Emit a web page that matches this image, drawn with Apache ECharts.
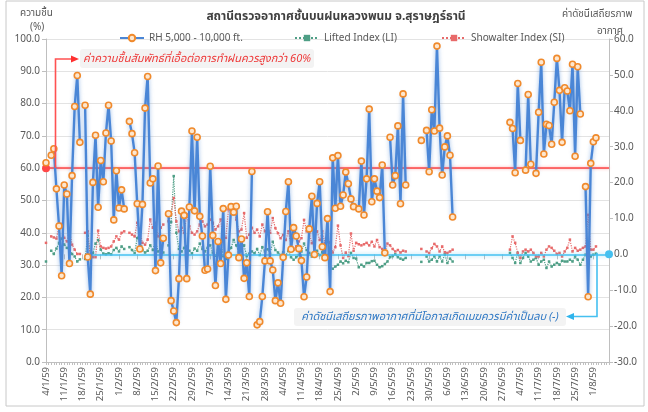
<!DOCTYPE html>
<html><head><meta charset="utf-8">
<script src="https://cdn.jsdelivr.net/npm/echarts@6/dist/echarts.min.js"></script>
<style>html,body{margin:0;padding:0;background:#fff}#c{width:648px;height:412px}</style>
</head><body><div id="c"></div>
<script>
// ---- data ----
const startDate = [2016, 0, 4]; // 4/1/59 (B.E. 2559)
const dayCount = 217;
const leftTicks = {min: 0, max: 100, interval: 10};
const rightTicks = {min: -30, max: 60, interval: 10};

const rh = [
61.7,null,64.0,66.0,53.6,42.1,26.7,54.8,52.0,30.5,57.7,79.1,88.7,68.0,null,79.5,32.5,21.0,55.6,70.2,
47.9,62.4,55.8,70.9,79.5,68.4,44.0,59.2,47.7,53.3,47.4,null,74.5,70.7,64.8,49.0,35.0,48.8,78.6,88.4,
55.4,56.7,28.3,60.7,30.7,38.3,null,45.9,19.0,15.8,12.2,25.8,46.7,45.4,25.8,48.0,71.5,46.8,69.6,45.1,
39.0,28.4,28.8,60.6,39.2,23.7,37.3,30.5,47.5,19.4,33.1,48.1,46.4,48.2,32.3,38.1,25.9,30.7,20.3,59.0,
null,11.5,12.5,20.3,31.3,46.5,31.3,28.5,19.0,24.5,18.2,32.4,46.6,55.8,34.9,41.6,39.0,35.1,31.4,20.2,
26.3,41.2,51.3,33.3,49.1,55.8,35.7,32.3,44.4,21.8,63.2,47.6,63.9,48.2,51.7,58.8,55.2,50.5,48.1,null,
47.4,62.2,45.5,56.7,78.3,49.6,56.7,52.9,50.9,61.0,33.8,null,69.6,54.8,57.7,73.1,49.0,83.0,54.8,null,
null,null,null,null,68.6,null,71.7,58.9,78.1,71.5,97.8,72.4,57.9,66.6,70.0,64.0,44.9,null,null,null,
null,null,null,null,null,null,null,null,null,null,null,null,null,null,null,null,null,null,74.2,72.3,
58.6,86.2,68.6,null,59.4,82.8,61.2,null,58.4,77.3,92.8,64.4,73.6,73.2,67.4,80.4,94.0,84.1,68.0,84.9,
83.9,77.8,92.2,63.7,91.4,76.8,null,54.3,20.2,61.5,68.2,69.4];

const li = [
-2.0,null,1.0,0.1,1.6,3.2,4.4,2.7,1.8,1.3,0.1,-0.6,-2.0,-1.4,null,-1.3,5.2,-0.3,0.4,3.0,
4.0,1.3,0.2,0.0,0.3,0.0,1.2,1.8,0.8,2.2,1.5,null,2.0,1.2,0.4,4.5,6.0,1.2,0.5,1.0,
2.5,1.2,3.8,0.8,1.5,0.5,null,2.5,9.0,21.8,6.0,1.5,0.8,1.8,2.2,1.0,0.2,1.6,1.0,3.0,
1.5,0.8,1.8,2.5,0.5,-0.4,1.2,3.4,-0.5,-1.3,0.6,1.8,4.0,2.5,0.5,0.9,2.5,-0.5,0.2,0.8,
0.3,1.5,-0.2,2.0,0.8,1.4,0.2,3.5,1.2,0.5,-0.2,0.6,-0.3,1.0,-0.8,-1.5,-0.8,-0.2,0.8,3.0,
1.2,0.4,-0.6,0.2,1.0,-0.2,0.6,-1.0,-0.2,-3.5,-4.0,-3.4,-2.9,-2.0,-2.5,-1.8,-2.2,0.4,-1.0,-1.2,
-3.6,-2.9,-3.4,-2.4,-2.4,-1.9,-1.8,-2.9,-3.6,-3.3,-2.7,-2.0,-0.8,-0.5,0.0,-0.8,-1.2,-1.5,-1.0,null,
null,null,null,null,-2.1,null,-0.6,-2.0,-1.5,-0.6,-2.0,-0.6,-2.0,0.0,-2.4,-1.2,-2.0,null,null,null,
null,null,null,null,null,null,null,null,null,null,null,null,null,null,null,null,null,null,0.4,-1.0,
-2.4,0.4,-2.4,-1.0,0.4,-0.6,-2.0,-1.5,-1.0,-2.9,-2.0,-1.5,-3.8,-2.0,-3.4,-2.9,-2.4,-2.9,-1.8,-2.0,
-2.0,-1.5,-2.0,-0.6,-1.5,-2.9,-1.5,-0.1,-1.0,-0.6,-0.1,0.2];

const si = [
3.2,null,5.0,4.7,4.4,7.8,8.5,4.6,3.6,6.6,2.7,1.3,0.1,0.1,null,6.0,6.4,-0.6,-0.8,-0.8,
6.6,2.2,1.8,1.6,1.8,2.2,3.6,5.0,4.1,6.0,6.4,null,6.0,5.5,5.0,8.8,6.4,3.2,2.7,4.1,
9.7,7.4,8.8,5.0,7.4,8.3,null,9.2,11.1,15.7,9.2,6.4,7.4,6.0,11.1,7.8,6.0,5.5,6.4,8.3,
9.2,7.8,8.3,9.7,8.8,6.9,7.8,9.7,3.6,4.6,12.5,12.0,12.9,9.7,6.4,6.9,11.5,4.6,5.5,7.4,
6.0,6.9,5.0,8.3,6.4,7.4,6.0,10.1,7.3,5.9,4.5,5.4,4.0,6.4,2.6,1.3,2.2,3.6,4.5,9.6,
6.4,5.9,3.1,4.5,6.4,4.0,6.4,3.1,4.5,3.2,0.5,2.0,8.0,2.5,-1.0,0.5,-0.5,5.8,1.0,3.2,
2.8,2.5,2.8,3.2,2.5,3.5,2.2,4.0,2.0,1.5,0.5,3.0,2.5,1.5,0.8,1.2,0.5,1.0,0.8,null,
null,null,null,null,1.5,null,0.8,0.4,1.7,2.9,2.2,0.8,2.2,0.6,0.4,0.8,1.3,null,null,null,
null,null,null,null,null,null,null,null,null,null,null,null,null,null,null,null,null,null,1.3,5.0,
3.2,0.4,-1.0,0.8,1.3,0.8,1.3,0.4,-0.6,-0.6,0.4,-0.6,1.3,2.2,1.8,1.0,0.1,0.4,-0.6,0.8,
1.8,4.1,0.8,1.8,1.0,1.3,1.8,2.2,11.0,1.3,1.3,2.2];

const days = [];
for (let i = 0; i < dayCount; i++) {
  const d = new Date(startDate[0], startDate[1], startDate[2] + i);
  days.push(d.getDate() + '/' + (d.getMonth() + 1) + '/59');
}

const FF = "'Noto Sans', 'Noto Sans Thai', Tahoma, 'DejaVu Sans', sans-serif";
const chart = echarts.init(document.getElementById('c'), null, {renderer: 'canvas'});
const gray = '#595959';

chart.setOption({
  animation: false,
  backgroundColor: '#fff',
  textStyle: {fontFamily: FF},
  title: {
    text: 'สถานีตรวจอากาศชั้นบนฝนหลวงพนม จ.สุราษฎร์ธานี',
    left: 331, top: 6, textAlign: 'center',
    textStyle: {fontSize: 12, fontWeight: 'bold', color: '#404040', fontFamily: FF}
  },
  legend: [
    {data: ['RH 5,000 - 10,000 ft.'], left: 114, top: 28, itemWidth: 24, itemHeight: 8, itemGap: 4,
     textStyle: {fontSize: 10, color: gray, fontFamily: FF}},
    {data: ['Lifted Index (LI)'], left: 289, top: 28, itemWidth: 24, itemHeight: 8,
     textStyle: {fontSize: 10, color: gray, fontFamily: FF}},
    {data: ['Showalter Index (SI)'], left: 436, top: 28, itemWidth: 24, itemHeight: 8,
     textStyle: {fontSize: 10, color: gray, fontFamily: FF}}
  ],
  grid: {left: 46, right: 39, top: 39, bottom: 50, containLabel: false},
  xAxis: [{
    type: 'category', data: days, boundaryGap: false,
    axisLine: {lineStyle: {color: '#bfbfbf'}},
    axisTick: {interval: 0, length: 3, lineStyle: {color: '#bfbfbf'}},
    axisLabel: {interval: 6, rotate: 90, fontSize: 9.5, color: gray, margin: 5, fontFamily: FF},
    splitLine: {show: false}
  }, {
    type: 'category', data: days, boundaryGap: false, position: 'bottom',
    axisLine: {show: false},
    axisTick: {interval: 6, length: 5, lineStyle: {color: '#bfbfbf'}},
    axisLabel: {show: false}, splitLine: {show: false}
  }],
  yAxis: [{
    type: 'value', min: leftTicks.min, max: leftTicks.max, interval: leftTicks.interval,
    axisLine: {show: true, lineStyle: {color: '#bfbfbf'}},
    axisTick: {show: true, length: 4, lineStyle: {color: '#bfbfbf'}},
    axisLabel: {formatter: v => v.toFixed(1), fontSize: 10, color: gray, margin: 6, fontFamily: FF},
    splitLine: {lineStyle: {color: '#e3e3e3'}}
  }, {
    type: 'value', min: rightTicks.min, max: rightTicks.max, interval: rightTicks.interval, position: 'right',
    axisLine: {show: true, lineStyle: {color: '#bfbfbf'}},
    axisTick: {show: true, length: 4, lineStyle: {color: '#bfbfbf'}},
    axisLabel: {formatter: v => v.toFixed(1), fontSize: 10, color: gray, margin: 5, fontFamily: FF},
    splitLine: {show: false}
  }],
  series: [{
    name: 'Lifted Index (LI)', type: 'line', yAxisIndex: 1, data: li, z: 2,
    symbol: 'rect', symbolSize: 2.5, connectNulls: false, showAllSymbol: true,
    lineStyle: {color: '#4f9f86', width: 1.2, type: 'dotted'},
    itemStyle: {color: '#4f9f86'},
    markLine: {
      silent: true, symbol: ['none', 'circle'], symbolSize: 8,
      label: {show: false},
      lineStyle: {color: '#45c0f0', width: 1.6, type: 'solid', shadowBlur: 4, shadowColor: 'rgba(69,192,240,0.6)'},
      itemStyle: {color: '#2fb4ec'},
      data: [[{coord: [16, 0]}, {coord: [dayCount - 1, 0]}]]
    }
  }, {
    name: 'Showalter Index (SI)', type: 'line', yAxisIndex: 1, data: si, z: 2,
    symbol: 'rect', symbolSize: 2.5, connectNulls: false, showAllSymbol: true,
    lineStyle: {color: '#e86a6a', width: 1.2, type: 'dotted'},
    itemStyle: {color: '#e86a6a'}
  }, {
    name: 'RH 5,000 - 10,000 ft.', type: 'line', yAxisIndex: 0, data: rh, z: 5,
    symbol: 'circle', symbolSize: 6, connectNulls: false, showAllSymbol: true,
    lineStyle: {color: '#4a86d6', width: 2.4, shadowBlur: 4, shadowColor: 'rgba(74,134,214,0.55)'},
    itemStyle: {color: '#fde7cf', borderColor: '#f08a2c', borderWidth: 1.6},
    markLine: {
      silent: true, symbol: ['circle', 'none'], symbolSize: 8,
      label: {show: false},
      lineStyle: {color: '#ff4747', width: 1.6, type: 'solid', shadowBlur: 3, shadowColor: 'rgba(255,71,71,0.5)'},
      itemStyle: {color: '#ff2b2b'},
      data: [{yAxis: 60}]
    }
  }],
  graphic: [
    {type: 'rect', shape: {x: 6, y: 1, width: 638, height: 405}, style: {fill: 'none', stroke: '#c8c8c8', lineWidth: 1}, z: -10, silent: true},
    {type: 'text', left: 20, top: 8, style: {text: 'ความชื้น', fontSize: 10, fill: gray, fontFamily: FF}},
    {type: 'text', left: 30, top: 22, style: {text: '(%)', fontSize: 10, fill: gray, fontFamily: FF}},
    {type: 'text', left: 562, top: 9, style: {text: 'ค่าดัชนีเสถียรภาพ', fontSize: 10, fill: gray, fontFamily: FF}},
    {type: 'text', left: 597, top: 26, style: {text: 'อากาศ', fontSize: 10, fill: gray, fontFamily: FF}},
    // red annotation
    {type: 'rect', shape: {x: 80, y: 49, width: 234, height: 19, r: 3}, style: {fill: '#f3f3f3'}, z: 10, silent: true},
    {type: 'text', x: 197, y: 58.5, z: 11, style: {text: 'ค่าความชื้นสัมพัทธ์ที่เอื้อต่อการทำฝนควรสูงกว่า 60%', fontSize: 11, fontStyle: 'italic', fill: '#ee3a3a', align: 'center', verticalAlign: 'middle', fontFamily: FF}},
    {type: 'polyline', z: 10, shape: {points: [[55.5, 168], [55.5, 59], [73, 59]]}, style: {stroke: '#ff5252', lineWidth: 1.6, fill: 'none'}},
    {type: 'polygon', z: 10, shape: {points: [[79, 59], [71, 55.5], [71, 62.5]]}, style: {fill: '#ff3030'}},
    // blue annotation
    {type: 'rect', shape: {x: 294, y: 308, width: 272, height: 18, r: 3}, style: {fill: '#f3f3f3'}, z: 10, silent: true},
    {type: 'text', x: 430, y: 317, z: 11, style: {text: 'ค่าดัชนีเสถียรภาพอากาศที่มีโอกาสเกิดเมฆควรมีค่าเป็นลบ (-)', fontSize: 11, fontStyle: 'italic', fill: '#2f78c4', align: 'center', verticalAlign: 'middle', fontFamily: FF}},
    {type: 'polyline', z: 10, shape: {points: [[597, 253], [597, 316.5], [573, 316.5]]}, style: {stroke: '#45c0f0', lineWidth: 1.6, fill: 'none'}},
    {type: 'polygon', z: 10, shape: {points: [[566, 316.5], [574, 313], [574, 320]]}, style: {fill: '#2fb4ec'}}
  ]
});
</script></body></html>
